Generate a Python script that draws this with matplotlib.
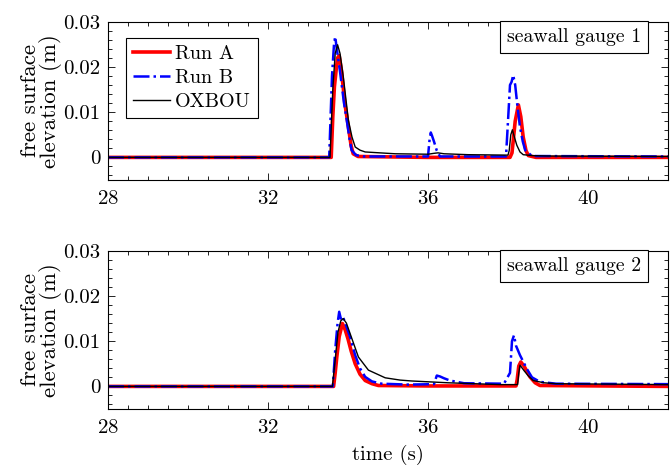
import matplotlib
matplotlib.use("Agg")
import matplotlib.pyplot as plt
from matplotlib.ticker import MultipleLocator

plt.rcParams['font.family'] = 'cmr10'
plt.rcParams['mathtext.fontset'] = 'cm'
plt.rcParams['axes.formatter.use_mathtext'] = True
plt.rcParams['font.size'] = 15

# gauge 1 series (time in s, elevation in m)
g1_runa_t = [28, 33.58, 33.62, 33.66, 33.70, 33.74, 33.78, 33.84, 33.92, 34.01, 34.08, 34.13, 34.25, 36.0,
             38.05, 38.10, 38.18, 38.26, 38.32, 38.38, 38.45, 38.51, 38.7, 42]
g1_runa_v = [0, 0, 0.009, 0.0156, 0.019, 0.022, 0.0225, 0.019, 0.012, 0.0067, 0.0025, 0.0008, 0.0002, 0,
             0, 0.001, 0.008, 0.0116, 0.009, 0.0045, 0.0015, 0.0004, 0, 0]
g1_runb_t = [28, 33.53, 33.60, 33.65, 33.68, 33.72, 33.80, 33.90, 33.97, 34.04, 34.09, 34.2, 34.4, 36.0,
             36.04, 36.07, 36.10, 36.15, 36.22, 36.3, 37.95, 38.0, 38.05, 38.09, 38.13, 38.18, 38.24,
             38.3, 38.37, 38.43, 38.6, 42]
g1_runb_v = [0, 0, 0.018, 0.025, 0.0267, 0.024, 0.019, 0.012, 0.0082, 0.004, 0.0016, 0.0005, 0.0002, 0.0002,
             0.004, 0.0055, 0.0048, 0.0035, 0.0015, 0.0002, 0.0002, 0.008, 0.016, 0.0167, 0.0182, 0.016, 0.011,
             0.0067, 0.0035, 0.0016, 0.0003, 0.0002]
g1_oxbou_t = [28, 33.55, 33.62, 33.68, 33.74, 33.80, 33.88, 34.01, 34.10, 34.18, 34.3, 34.43, 34.8, 35.18, 36.0,
              36.15, 36.25, 36.4, 37.0, 38.0, 38.03, 38.07, 38.11, 38.16, 38.22, 38.3, 38.38, 38.6, 39.0, 42]
g1_oxbou_v = [0, 0, 0.015, 0.023, 0.0249, 0.023, 0.018, 0.0082, 0.0045, 0.0023, 0.0016, 0.0012, 0.001, 0.0008,
              0.0007, 0.0009, 0.001, 0.0008, 0.0006, 0.0005, 0.0015, 0.005, 0.0061, 0.0045, 0.0027, 0.0012,
              0.0006, 0.0004, 0.0003, 0.0002]

# gauge 2 series
g2_runa_t = [28, 33.64, 33.68, 33.72, 33.78, 33.86, 33.93, 34.0, 34.08, 34.18, 34.3, 34.43, 34.6, 34.76, 36,
             38.2, 38.23, 38.27, 38.32, 38.4, 38.55, 38.68, 38.8, 42]
g2_runa_v = [0, 0, 0.003, 0.0065, 0.011, 0.0139, 0.0125, 0.0105, 0.0078, 0.005, 0.0027, 0.0013, 0.0006, 0.0002,
             0.0001, 0.0001, 0.0015, 0.0045, 0.0054, 0.0045, 0.0021, 0.0008, 0.0002, 0]
g2_runb_t = [28, 33.62, 33.68, 33.74, 33.78, 33.82, 33.87, 33.93, 34.05, 34.18, 34.3, 34.43, 34.6, 34.84, 35.5,
             36.15, 36.22, 36.3, 36.4, 36.55, 36.9, 37.9, 38.05, 38.1, 38.15, 38.2, 38.3, 38.38, 38.47, 38.6,
             38.8, 39.2, 42]
g2_runb_v = [0, 0, 0.008, 0.014, 0.0165, 0.015, 0.0155, 0.014, 0.011, 0.0069, 0.004, 0.0021, 0.0011, 0.0006,
             0.0004, 0.0005, 0.0024, 0.0022, 0.0018, 0.0013, 0.0007, 0.0006, 0.003, 0.01, 0.0113, 0.009, 0.0069,
             0.0055, 0.0039, 0.002, 0.001, 0.0006, 0.0005]
g2_oxbou_t = [28, 33.61, 33.68, 33.75, 33.82, 33.88, 33.96, 34.1, 34.26, 34.51, 34.93, 35.3, 35.59, 36.5, 37.8,
              38.24, 38.27, 38.3, 38.4, 38.5, 38.63, 38.9, 39.2, 42]
g2_oxbou_v = [0, 0, 0.006, 0.012, 0.0145, 0.015, 0.014, 0.0105, 0.0065, 0.0036, 0.0019, 0.0014, 0.0012, 0.0008,
              0.0004, 0.0004, 0.003, 0.0047, 0.0035, 0.0024, 0.0013, 0.0008, 0.0006, 0.0004]

x_ticks = [28, 32, 36, 40]
y_ticks = [0, 0.01, 0.02, 0.03]
y_tick_labels = ['0', '0.01', '0.02', '0.03']
gauge_labels = ['seawall gauge 1', 'seawall gauge 2']

fig = plt.figure(figsize=(6.7, 4.65), dpi=100)
ax1 = fig.add_axes([0.1612, 0.6129, 0.8358, 0.3404])
ax2 = fig.add_axes([0.1612, 0.1204, 0.8358, 0.3404])

panels = [
    (ax1, g1_runa_t, g1_runa_v, g1_runb_t, g1_runb_v, g1_oxbou_t, g1_oxbou_v),
    (ax2, g2_runa_t, g2_runa_v, g2_runb_t, g2_runb_v, g2_oxbou_t, g2_oxbou_v),
]

for i, (ax, ta, va, tb, vb, to, vo) in enumerate(panels):
    ax.plot(ta, va, color='red', lw=2.6, label='Run A')
    ax.plot(tb, vb, color='blue', lw=1.8, ls='-.', label='Run B')
    ax.plot(to, vo, color='black', lw=1.0, label='OXBOU')

    ax.set_xlim(28, 42)
    ax.set_ylim(-0.005, 0.03)
    ax.set_xticks(x_ticks)
    ax.set_yticks(y_ticks)
    ax.set_yticklabels(y_tick_labels)
    ax.xaxis.set_minor_locator(MultipleLocator(0.5))
    ax.yaxis.set_minor_locator(MultipleLocator(0.002))
    ax.tick_params(which='both', direction='in', top=True, right=True, width=0.6)
    ax.tick_params(which='major', length=5)
    ax.tick_params(which='minor', length=3)
    ax.tick_params(axis='x', pad=7)
    ax.tick_params(axis='y', pad=5.5)
    for sp in ax.spines.values():
        sp.set_linewidth(0.8)

    ax.set_ylabel('free surface\nelevation (m)', fontsize=16.5, labelpad=1, linespacing=0.95)
    ax.text(0.952, 0.962, gauge_labels[i], transform=ax.transAxes, ha='right', va='top', fontsize=14.3,
            bbox=dict(boxstyle='square,pad=0.35', fc='white', ec='black', lw=0.8))

leg = ax1.legend(loc='upper left', bbox_to_anchor=(0.032, 0.899), borderaxespad=0, fontsize=14.5,
                 fancybox=False, framealpha=1, edgecolor='black', handlelength=1.85,
                 borderpad=0.35, labelspacing=0.3, handletextpad=0.25)
leg.get_frame().set_linewidth(0.8)

ax2.set_xlabel('time (s)', labelpad=6)

fig.savefig('out.png', dpi=100)
